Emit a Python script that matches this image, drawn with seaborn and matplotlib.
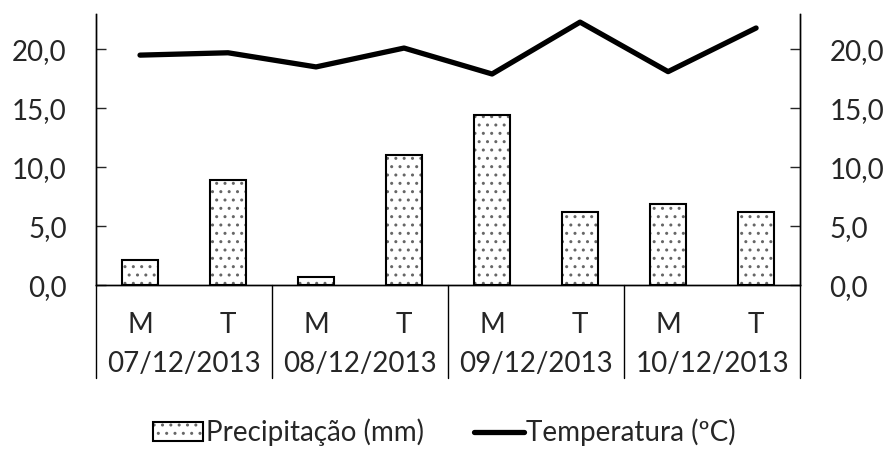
import pandas as pd
import numpy as np
import matplotlib.pyplot as plt
import seaborn as sns
import matplotlib.ticker as mtick

periods = ['M', 'T', 'M', 'T', 'M', 'T', 'M', 'T']
dates = ['07/12/2013', '08/12/2013', '09/12/2013', '10/12/2013']
precip = [2.1, 8.9, 0.7, 11.0, 14.4, 6.2, 6.9, 6.2]
temp = [19.5, 19.7, 18.5, 20.1, 17.9, 22.3, 18.1, 21.8]
yticks = [0, 5, 10, 15, 20]

fontsize = 20
sns.set_style("white")
plt.rcParams['font.family'] = ['Lato', 'DejaVu Sans']
plt.rcParams['hatch.linewidth'] = 1.0

df = pd.DataFrame({'slot': [f'{d}_{p}' for d in dates for p in ['M', 'T']],
                   'pos': np.arange(len(periods)),
                   'precip': precip, 'temp': temp})

fig, ax = plt.subplots(figsize=(8.89, 4.62), dpi=100)
plt.subplots_adjust(left=0.108, right=0.9, top=0.97, bottom=0.383)

sns.barplot(data=df, x='slot', y='precip', color='white', edgecolor='black',
            linewidth=1.5, width=0.41, hatch='..', ax=ax, label='Precipitação (mm)')
for p in ax.patches:
    p._hatch_color = (0.4, 0.4, 0.4, 1.0)

ax2 = ax.twinx()
sns.lineplot(data=df, x='pos', y='temp', color='black', linewidth=3.8,
             solid_capstyle='round', ax=ax2, label='Temperatura (ºC)')

for a in (ax, ax2):
    a.set_ylim(0, 23)
    a.set_xlim(-0.5, len(periods) - 0.5)
    a.set_yticks(yticks)
    a.yaxis.set_major_formatter(mtick.FuncFormatter(lambda y, pos: f'{y:.1f}'.replace('.', ',')))
    a.tick_params(axis='y', direction='in', length=7, width=1, labelsize=fontsize, pad=21)
    a.set_ylabel('')
    a.set_xlabel('')
    for s in a.spines.values():
        s.set_linewidth(1)
        s.set_color('black')
    a.spines['top'].set_visible(False)
ax2.legend().remove()
ax.set_xticks([])
ax2.set_xticks([])

# two-level category axis
trans = ax.get_xaxis_transform()
for i, p in enumerate(periods):
    ax.text(i, -0.148, p, transform=trans, ha='center', va='center', fontsize=fontsize)
for j, d in enumerate(dates):
    ax.text(2 * j + 0.5, -0.29, d, transform=trans, ha='center', va='center', fontsize=fontsize)
for b in np.arange(-0.5, len(periods), 2):
    ax.plot([b, b], [0, -0.343], transform=trans, color='black', linewidth=1, clip_on=False)

h1, l1 = ax.get_legend_handles_labels()
h2, l2 = ax2.get_legend_handles_labels()
if ax.get_legend():
    ax.get_legend().remove()
fig.legend(h1 + h2, l1 + l2, loc='lower center', bbox_to_anchor=(0.5, -0.02), ncol=2,
           frameon=False, fontsize=fontsize, handlelength=1.8, handletextpad=0.1,
           columnspacing=1.8)

plt.savefig('out.png')
